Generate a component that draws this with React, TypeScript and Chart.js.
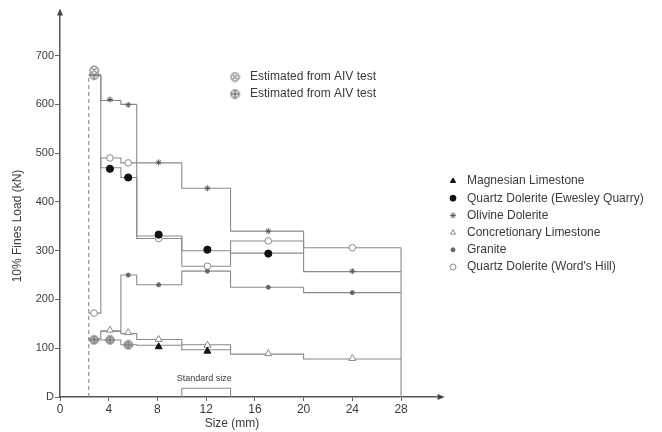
import React, { useEffect, useRef } from 'react';
import { Chart, registerables } from 'chart.js';
import { drawPoint } from 'chart.js/helpers';

Chart.register(...registerables);

// ---- data ----
const SIZE_EDGES = [2.36, 3.35, 5, 6.3, 10, 14, 20, 28];
const SIZE_MIDS = [2.8, 4.1, 5.6, 8.1, 12.1, 17.1, 24];
const X_TICKS = [0, 4, 8, 12, 16, 20, 24, 28];
const Y_TICKS = [0, 100, 200, 300, 400, 500, 600, 700];
const Y_TICK_LABELS = ['D', '100', '200', '300', '400', '500', '600', '700'];

const SERIES_NAMES = [
  'Magnesian Limestone',
  'Quartz Dolerite (Ewesley Quarry)',
  'Olivine Dolerite',
  'Concretionary Limestone',
  'Granite',
  "Quartz Dolerite (Word's Hill)",
];
const ESTIMATE_LABELS = ['Estimated from AIV test', 'Estimated from AIV test'];

const magnesianSteps = [117, 117, 107, 106, 97, null, null];
const magnesianMarks = [null, null, null, 103, 94, null, null];
const ewesleySteps = [660, 470, 450, 330, 300, 295, null];
const ewesleyMarks = [null, 468, 450, 333, 302, 294, null];
const olivineSteps = [660, 608, 600, 480, 428, 340, 257];
const olivineMarks = [null, 610, 599, 481, 428, 340, 258];
const concretionarySteps = [120, 135, 130, 118, 107, 88, 78];
const concretionaryMarks = [null, 137, 132, 118, 106, 89, 79];
const graniteSteps = [null, 135, 250, 230, 258, 225, 214];
const graniteMarks = [null, null, 250, 230, 258, 225, 214];
const wordsHillSteps = [172, 490, 480, 325, 268, 320, 306];
const wordsHillMarks = [172, 490, 480, 325, 268, 320, 306];

const estimateCrossMarks = [670, null, null, null, null, null, null];
const estimatePlusMarks = [660, null, null, null, null, null, null];
const estimateLowMarks = [117, 117, 107, null, null, null, null];

const LOWER_BOUND_X = 2.36;
const LOWER_BOUND_TOP = 660;
const UPPER_BOUND_X = 28;
const UPPER_BOUND_TOP = 306;
const STANDARD_SIZE = [10, 14];
const STANDARD_LEVEL = 18;
const STANDARD_LABEL = 'Standard size';

const X_TITLE = 'Size (mm)';
const Y_TITLE = '10% Fines Load (kN)';

// ---- helpers ----
function stepPoints(values: (number | null)[]) {
  const pts: { x: number; y: number | null }[] = [];
  for (let i = 0; i < values.length; i++) {
    const v = values[i];
    if (v == null) {
      pts.push({ x: SIZE_EDGES[i], y: null });
      continue;
    }
    pts.push({ x: SIZE_EDGES[i], y: v });
    pts.push({ x: SIZE_EDGES[i + 1], y: v });
  }
  return pts;
}
function markPoints(values: (number | null)[]) {
  return values
    .map((v, i) => (v == null ? null : { x: SIZE_MIDS[i], y: v }))
    .filter((p) => p !== null) as { x: number; y: number }[];
}

function makeGlyph(kind: 'cross' | 'plus', fill: string, stroke: string) {
  const c = document.createElement('canvas');
  c.width = 11;
  c.height = 11;
  const g = c.getContext('2d')!;
  g.beginPath();
  g.arc(5.5, 5.5, 4.3, 0, Math.PI * 2);
  g.fillStyle = fill;
  g.fill();
  g.lineWidth = 1;
  g.strokeStyle = stroke;
  g.stroke();
  g.beginPath();
  if (kind === 'cross') {
    g.moveTo(2.8, 2.8); g.lineTo(8.2, 8.2);
    g.moveTo(8.2, 2.8); g.lineTo(2.8, 8.2);
  } else {
    g.moveTo(5.5, 1.5); g.lineTo(5.5, 9.5);
    g.moveTo(1.5, 5.5); g.lineTo(9.5, 5.5);
  }
  g.stroke();
  return c;
}

const LINE_COLOR = '#8a8a8a';
const TEXT_COLOR = '#3a3a3a';
const FONT_FAMILY = '"Liberation Sans", Arial, sans-serif';

export default function App() {
  const ref = useRef<HTMLCanvasElement>(null);

  useEffect(() => {
    if (!ref.current) return;
    const crossGlyph = makeGlyph('cross', '#e8e8e8', '#666');
    const plusGlyph = makeGlyph('plus', '#d8d8d8', '#666');
    const lowGlyph = makeGlyph('plus', '#a8a8a8', '#777');

    const markerStyles = [
      { pointStyle: 'triangle', radius: 4, fill: '#111', stroke: '#111', bw: 1 },
      { pointStyle: 'circle', radius: 3.6, fill: '#111', stroke: '#111', bw: 1 },
      { pointStyle: 'star', radius: 3, fill: '#555', stroke: '#555', bw: 1 },
      { pointStyle: 'triangle', radius: 4, fill: '#fff', stroke: '#888', bw: 1 },
      { pointStyle: 'circle', radius: 2, fill: '#666', stroke: '#666', bw: 1 },
      { pointStyle: 'circle', radius: 3.3, fill: '#fff', stroke: '#8a8a8a', bw: 1 },
    ];
    const stepSets = [magnesianSteps, ewesleySteps, olivineSteps, concretionarySteps, graniteSteps, wordsHillSteps];
    const markSets = [magnesianMarks, ewesleyMarks, olivineMarks, concretionaryMarks, graniteMarks, wordsHillMarks];

    const lineBase = {
      borderColor: LINE_COLOR,
      borderWidth: 1.1,
      pointRadius: 0,
      spanGaps: false,
      fill: false,
      order: 2,
    };

    const datasets: any[] = [];
    stepSets.forEach((s, i) => {
      datasets.push({ ...lineBase, label: SERIES_NAMES[i] + ' line', data: stepPoints(s) });
    });
    datasets.push({
      ...lineBase,
      label: 'lower bound',
      borderDash: [4, 3],
      data: [{ x: LOWER_BOUND_X, y: 0 }, { x: LOWER_BOUND_X, y: LOWER_BOUND_TOP }],
    });
    datasets.push({
      ...lineBase,
      label: 'upper bound',
      data: [{ x: UPPER_BOUND_X, y: 0 }, { x: UPPER_BOUND_X, y: UPPER_BOUND_TOP }],
    });
    datasets.push({
      ...lineBase,
      label: 'standard',
      data: [
        { x: STANDARD_SIZE[0], y: 0 },
        { x: STANDARD_SIZE[0], y: STANDARD_LEVEL },
        { x: STANDARD_SIZE[1], y: STANDARD_LEVEL },
        { x: STANDARD_SIZE[1], y: 0 },
      ],
    });
    markSets.forEach((m, i) => {
      const st = markerStyles[i];
      datasets.push({
        label: SERIES_NAMES[i],
        data: markPoints(m),
        showLine: false,
        pointStyle: st.pointStyle,
        pointRadius: st.radius,
        pointBackgroundColor: st.fill,
        pointBorderColor: st.stroke,
        pointBorderWidth: st.bw,
        order: 0,
      });
    });
    datasets.push({ label: 'est cross', data: markPoints(estimateCrossMarks), showLine: false, pointStyle: crossGlyph, pointRadius: 5, order: 0 });
    datasets.push({ label: 'est plus', data: markPoints(estimatePlusMarks), showLine: false, pointStyle: plusGlyph, pointRadius: 5, order: 0 });
    datasets.push({ label: 'est low', data: markPoints(estimateLowMarks), showLine: false, pointStyle: lowGlyph, pointRadius: 5, order: 0 });

    const overlay = {
      id: 'overlay',
      afterDraw(chart: any) {
        const ctx = chart.ctx;
        const a = chart.chartArea;
        const xs = chart.scales.x;
        const ys = chart.scales.y;
        ctx.save();
        // arrows
        ctx.fillStyle = '#444';
        ctx.beginPath();
        ctx.moveTo(a.left, a.top - 7);
        ctx.lineTo(a.left - 3, a.top);
        ctx.lineTo(a.left + 3, a.top);
        ctx.closePath();
        ctx.fill();
        ctx.beginPath();
        ctx.moveTo(a.right + 7, a.bottom);
        ctx.lineTo(a.right, a.bottom - 3);
        ctx.lineTo(a.right, a.bottom + 3);
        ctx.closePath();
        ctx.fill();

        // axis titles
        ctx.fillStyle = TEXT_COLOR;
        ctx.font = '12px ' + FONT_FAMILY;
        ctx.textAlign = 'center';
        ctx.textBaseline = 'middle';
        ctx.fillText(X_TITLE, 224, 416);
        ctx.save();
        ctx.translate(10, 218);
        ctx.rotate(-Math.PI / 2);
        ctx.fillText(Y_TITLE, 0, 0);
        ctx.restore();

        // standard size label
        ctx.font = '9px ' + FONT_FAMILY;
        ctx.fillText(STANDARD_LABEL, (xs.getPixelForValue(STANDARD_SIZE[0]) + xs.getPixelForValue(STANDARD_SIZE[1])) / 2 - 2, ys.getPixelForValue(STANDARD_LEVEL) - 10);

        // legends
        ctx.font = '12px ' + FONT_FAMILY;
        ctx.textAlign = 'left';
        const glyphs = [crossGlyph, plusGlyph];
        ESTIMATE_LABELS.forEach((t, i) => {
          const y = 69 + i * 17;
          drawPoint(ctx, { pointStyle: glyphs[i], radius: 5, borderWidth: 0, rotation: 0 } as any, 227, y);
          ctx.fillStyle = TEXT_COLOR;
          ctx.fillText(t, 242, y);
        });
        SERIES_NAMES.forEach((t, i) => {
          const y = 173 + i * 17.2;
          const st = markerStyles[i];
          ctx.fillStyle = st.fill;
          ctx.strokeStyle = st.stroke;
          ctx.lineWidth = st.bw;
          drawPoint(ctx, { pointStyle: st.pointStyle, radius: Math.min(st.radius, 3), borderWidth: st.bw, rotation: 0 } as any, 445, y);
          ctx.fillStyle = TEXT_COLOR;
          ctx.fillText(t, 459, y);
        });
        ctx.restore();
      },
    };

    const chart = new Chart(ref.current, {
      type: 'line',
      data: { datasets },
      options: {
        animation: false,
        responsive: false,
        maintainAspectRatio: false,
        layout: { padding: { top: 6, right: 224.4, left: 0, bottom: 0 } },
        plugins: { legend: { display: false }, tooltip: { enabled: false } },
        scales: {
          x: {
            type: 'linear',
            min: 0,
            max: 31,
            afterBuildTicks: (s: any) => {
              s.ticks = X_TICKS.map((v) => ({ value: v }));
            },
            afterFit: (s: any) => {
              s.height = 35;
            },
            ticks: { color: TEXT_COLOR, font: { size: 12, family: FONT_FAMILY }, padding: 1, maxRotation: 0, autoSkip: false },
            grid: { drawOnChartArea: false, tickLength: 4, color: '#666' },
            border: { color: '#555', width: 1.5 },
          },
          y: {
            type: 'linear',
            min: 0,
            max: 782,
            afterBuildTicks: (s: any) => {
              s.ticks = Y_TICKS.map((v) => ({ value: v }));
            },
            afterFit: (s: any) => {
              s.width = 52;
            },
            ticks: {
              color: TEXT_COLOR,
              font: { size: 11, family: FONT_FAMILY },
              padding: 1,
              callback: (v: any) => {
                const i = Y_TICKS.indexOf(Number(v));
                return i >= 0 ? Y_TICK_LABELS[i] : '';
              },
            },
            grid: { drawOnChartArea: false, tickLength: 5, color: '#666' },
            border: { color: '#555', width: 1.5 },
          },
        },
      },
      plugins: [overlay],
    });
    return () => chart.destroy();
  }, []);

  return (
    <div style={{ width: 654, height: 424 }}>
      <canvas ref={ref} width={654} height={424} style={{ width: 654, height: 424 }} />
    </div>
  );
}
